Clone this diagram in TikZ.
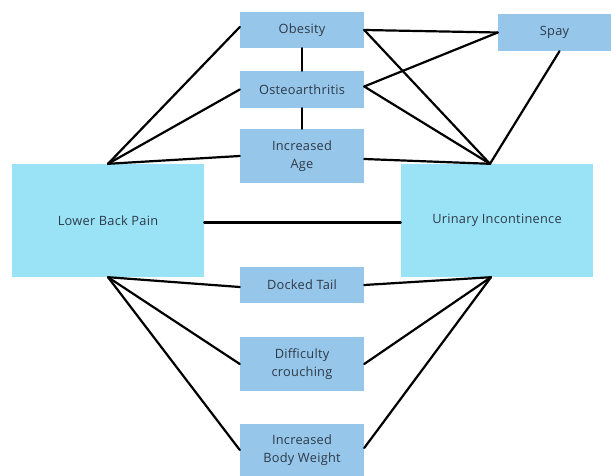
\documentclass[tikz,border=0pt]{standalone}
\usepackage{fontspec}
\setmainfont{Open Sans}[LetterSpace=2]
\definecolor{smallbox}{RGB}{150,198,233}
\definecolor{bigbox}{RGB}{154,226,246}
\definecolor{txt}{RGB}{45,58,72}
\begin{document}
\begin{tikzpicture}[x=1pt,y=-1pt,
  sbox/.style={fill=smallbox,draw=none,minimum width=124pt,align=center,text=txt,font=\fontsize{12.8}{18}\selectfont,inner sep=0pt},
  bbox/.style={fill=bigbox,draw=none,minimum width=192pt,minimum height=113pt,align=center,text=txt,font=\fontsize{12.8}{18}\selectfont,inner sep=0pt},
  link/.style={draw=black,line width=2.2pt,line cap=round}]
\useasboundingbox[fill=white] (0,0) rectangle (611,476);
\node[sbox,minimum height=36pt] (obesity) at (302,30) {Obesity};
\node[sbox,minimum height=37pt] (osteo) at (302,89.5) {Osteoarthritis};
\node[sbox,minimum height=54pt] (age) at (302,156) {Increased\\Age};
\node[sbox,minimum width=113pt,minimum height=37pt] (spay) at (554.5,32.5) {Spay};
\node[bbox] (lbp) at (108,220.5) {Lower Back Pain};
\node[bbox] (ui) at (497,220.5) {Urinary Incontinence};
\node[sbox,minimum height=36pt] (docked) at (302,285) {Docked Tail};
\node[sbox,minimum height=54pt] (diff) at (302,364) {Difficulty\\crouching};
\node[sbox,minimum height=52pt] (bw) at (302,450) {Increased\\Body Weight};
\coordinate (uitop) at ([xshift=-7pt]ui.north);
\coordinate (uibot) at ([xshift=-6pt]ui.south);
\coordinate (spaybot) at ([xshift=5pt]spay.south);
% left top fan
\draw[link] (lbp.north) -- ([yshift=3pt]obesity.west);
\draw[link] (lbp.north) -- (osteo.west);
\draw[link] (lbp.north) -- (age.west);
% middle
\draw[link] ([yshift=-2pt]lbp.east) -- ([yshift=-2pt]ui.west);
% left bottom fan
\draw[link] (lbp.south) -- ([yshift=-2pt]docked.west);
\draw[link] (lbp.south) -- (diff.west);
\draw[link] (lbp.south) -- (bw.west);
% vertical chain
\draw[link] (obesity.south) -- (osteo.north);
\draw[link] (osteo.south) -- (age.north);
% to spay
\draw[link] (obesity.east) -- (spay.west);
\draw[link] ([yshift=3pt]osteo.east) -- (spay.west);
% right top fan
\draw[link] (obesity.east) -- (uitop);
\draw[link] ([yshift=3pt]osteo.east) -- (uitop);
\draw[link] ([yshift=-3pt]age.east) -- (uitop);
\draw[link] (spaybot) -- (uitop);
% right bottom fan
\draw[link] (docked.east) -- (uibot);
\draw[link] (diff.east) -- (uibot);
\draw[link] ([yshift=2pt]bw.east) -- (uibot);
\end{tikzpicture}
\end{document}
